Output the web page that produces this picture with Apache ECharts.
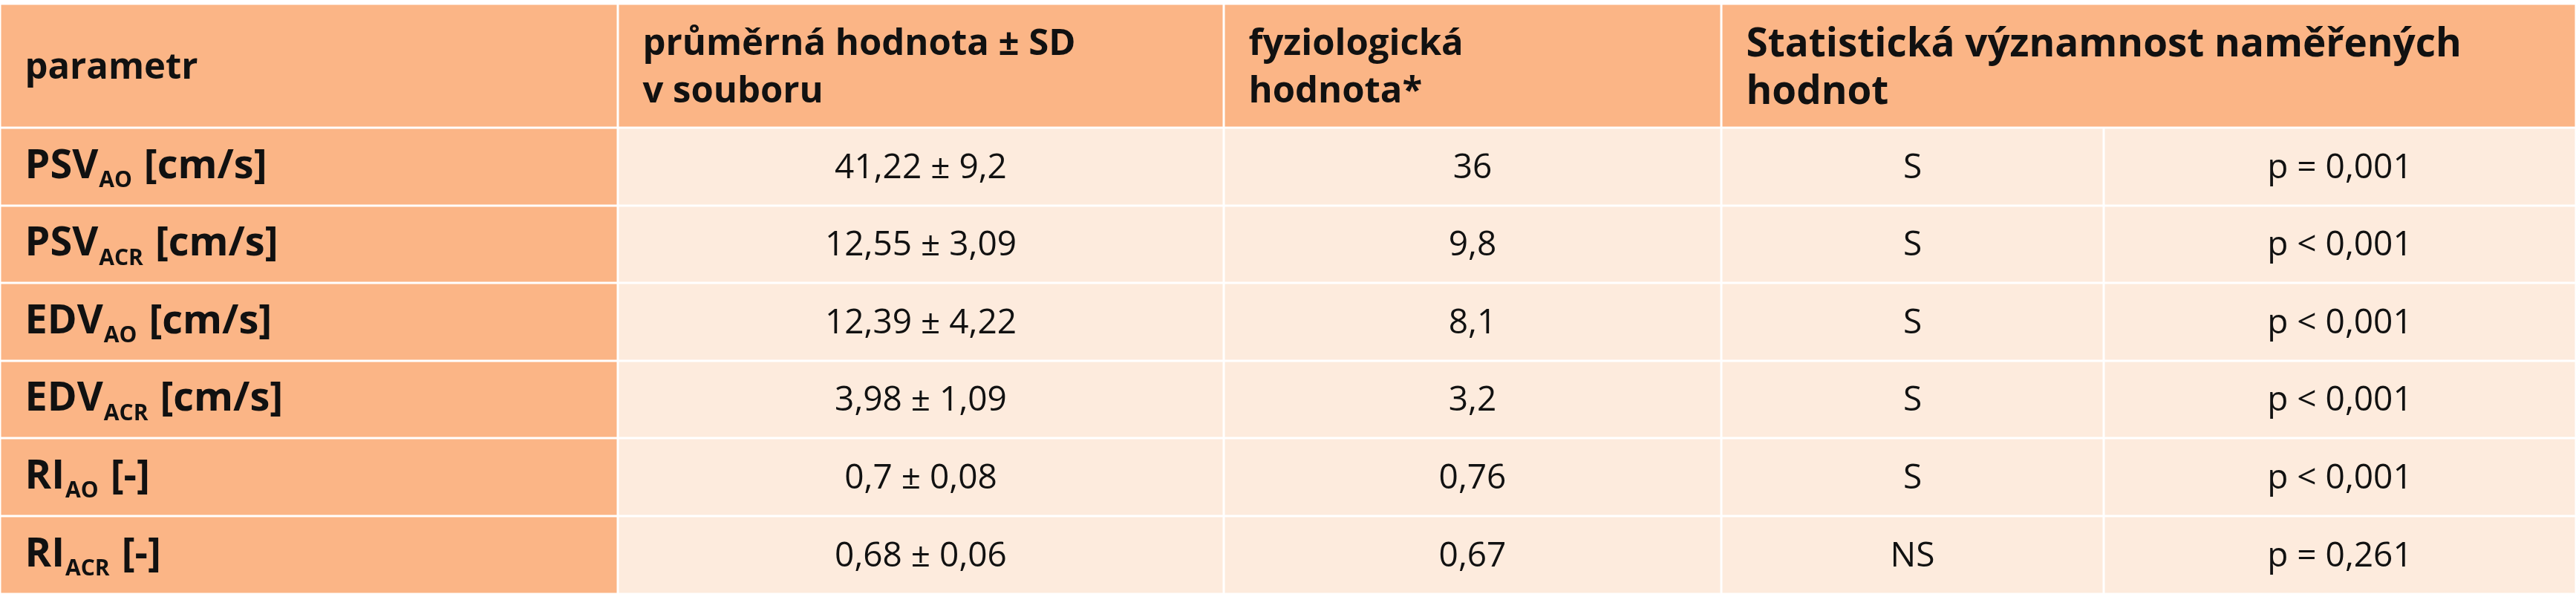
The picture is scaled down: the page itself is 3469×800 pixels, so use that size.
<!DOCTYPE html>
<html>
<head>
<meta charset="utf-8">
<script src="https://cdn.jsdelivr.net/npm/echarts@6/dist/echarts.min.js"></script>
<style>html,body{margin:0;padding:0;background:#fff}#main{width:3469px;height:800px}</style>
</head>
<body>
<div id="main"></div>
<script>
var headers = ['parametr', 'průměrná hodnota ± SD\nv souboru', 'fyziologická\nhodnota*', 'Statistická významnost naměřených\nhodnot'];
var paramNames = ['PSV', 'PSV', 'EDV', 'EDV', 'RI', 'RI'];
var paramSubs = ['AO', 'ACR', 'AO', 'ACR', 'AO', 'ACR'];
var paramUnits = ['[cm/s]', '[cm/s]', '[cm/s]', '[cm/s]', '[-]', '[-]'];
var meanSD = ['41,22 ± 9,2', '12,55 ± 3,09', '12,39 ± 4,22', '3,98 ± 1,09', '0,7 ± 0,08', '0,68 ± 0,06'];
var physio = ['36', '9,8', '8,1', '3,2', '0,76', '0,67'];
var signif = ['S', 'S', 'S', 'S', 'S', 'NS'];
var pValues = ['p = 0,001', 'p < 0,001', 'p < 0,001', 'p < 0,001', 'p < 0,001', 'p = 0,261'];

// layout of the table grid (pixel units on hidden value axes)
var colEdges = [0, 832, 1648, 2318, 2833, 3469];
var rowEdges = [5, 172, 277, 381, 486, 590, 695, 800];
var FONT = "'Liberation Sans Narrow', 'Arial Narrow', 'Open Sans', sans-serif";

var cells = [];
// header: [c0, c1, row, text, kind]
cells.push([0, 1, 0, headers[0], 'head']);
cells.push([1, 2, 0, headers[1], 'head']);
cells.push([2, 3, 0, headers[2], 'head']);
cells.push([3, 5, 0, headers[3], 'head']);
for (var i = 0; i < meanSD.length; i++) {
  cells.push([0, 1, i + 1, '{b|' + paramNames[i] + '}{s|' + paramSubs[i] + '}{b| ' + paramUnits[i] + '}', 'param']);
  cells.push([1, 2, i + 1, meanSD[i], 'body']);
  cells.push([2, 3, i + 1, physio[i], 'body']);
  cells.push([3, 4, i + 1, signif[i], 'body']);
  cells.push([4, 5, i + 1, pValues[i], 'body']);
}

var myChart = echarts.init(document.getElementById('main'));
myChart.setOption({
  animation: false,
  grid: {left: 0, right: 0, top: 0, bottom: 0},
  xAxis: {type: 'value', min: 0, max: 3469, show: false},
  yAxis: {type: 'value', min: 0, max: 800, inverse: true, show: false},
  series: [{
    type: 'custom',
    data: cells,
    encode: {x: [0, 1], y: 2},
    renderItem: function (params, api) {
      var d = cells[params.dataIndex];
      var p0 = api.coord([colEdges[d[0]], rowEdges[d[2]]]);
      var p1 = api.coord([colEdges[d[1]], rowEdges[d[2] + 1]]);
      var g = 1.5;
      var x = p0[0] + g, y = p0[1] + g, w = p1[0] - p0[0] - 2 * g, h = p1[1] - p0[1] - 2 * g;
      var orange = d[4] !== 'body';
      var text;
      if (d[4] === 'head') {
        text = {
          text: d[3], x: x + (d[0] === 0 ? 32 : 32), y: y + h / 2 + 4,
          align: 'left', verticalAlign: 'middle',
          font: 'bold ' + (d[0] === 3 ? 53 : 49) + 'px ' + FONT, fill: '#111', lineHeight: 64
        };
      } else if (d[4] === 'param') {
        text = {
          text: d[3], x: x + 32, y: y + h / 2, align: 'left', verticalAlign: 'middle',
          fill: '#111',
          rich: {
            b: {fontSize: 54, fontWeight: 'bold', fontFamily: FONT, fill: '#111', lineHeight: 60},
            s: {fontSize: 30, fontWeight: 'bold', fontFamily: FONT, fill: '#111', padding: [38, 2, 0, 1], lineHeight: 60}
          }
        };
      } else {
        text = {
          text: d[3], x: x + w / 2, y: y + h / 2 + 2, align: 'center', verticalAlign: 'middle',
          font: '46px ' + FONT, fill: '#111'
        };
      }
      return {
        type: 'group',
        children: [
          {type: 'rect', shape: {x: x, y: y, width: w, height: h}, style: {fill: orange ? '#FBB586' : '#FDEBDD'}},
          {type: 'text', style: text}
        ]
      };
    }
  }]
});
</script>
</body>
</html>
